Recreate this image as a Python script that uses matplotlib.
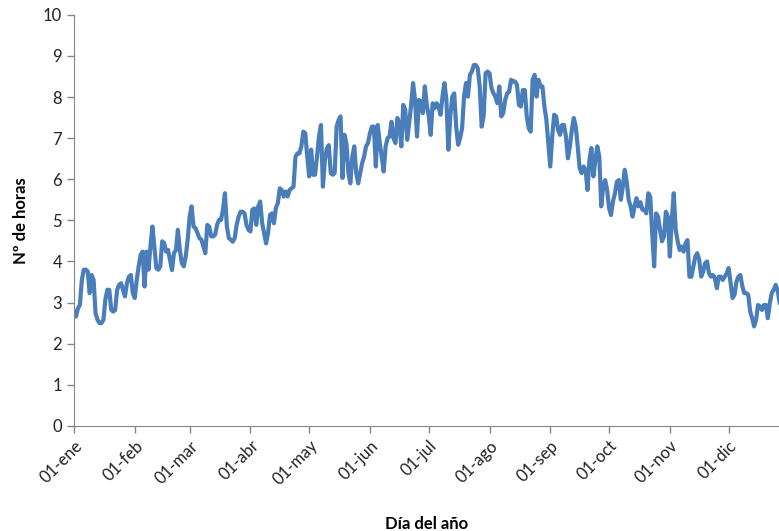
# -*- coding: utf-8 -*-

import matplotlib
matplotlib.use("Agg")
import matplotlib.pyplot as plt

# Horas de sol por día (día 0 = 01-ene)
horas = [
	2.78, 2.66, 2.86, 2.94, 3.55, 3.80, 3.80, 3.76, 3.23, 3.67,
	3.55, 2.74, 2.58, 2.50, 2.50, 2.58, 3.07, 3.31, 3.31, 2.82,
	2.78, 2.82, 3.31, 3.43, 3.47, 3.31, 3.15, 3.47, 3.63, 3.67,
	3.23, 3.11, 3.55, 3.88, 4.16, 4.24, 3.39, 4.24, 3.80, 4.36,
	4.85, 4.36, 3.84, 3.80, 3.88, 4.49, 4.45, 4.24, 4.28, 4.04,
	3.79, 4.20, 4.28, 4.77, 4.28, 3.96, 3.88, 4.12, 4.53, 5.09,
	5.34, 4.85, 4.81, 4.69, 4.57, 4.53, 4.36, 4.20, 4.89, 4.85,
	4.61, 4.61, 4.65, 4.89, 5.01, 5.01, 5.26, 5.66, 4.85, 4.57,
	4.53, 4.48, 4.57, 4.89, 5.09, 5.21, 5.21, 5.17, 4.89, 4.77,
	4.73, 5.26, 5.29, 4.89, 5.34, 5.46, 4.93, 4.69, 4.44, 4.69,
	5.13, 5.17, 4.93, 5.30, 5.42, 5.78, 5.74, 5.58, 5.70, 5.58,
	5.74, 5.78, 5.82, 6.55, 6.63, 6.63, 6.80, 7.16, 7.12, 6.55,
	6.07, 6.72, 6.11, 6.11, 6.55, 7.04, 7.32, 5.82, 6.47, 6.75,
	6.83, 6.15, 6.11, 6.15, 7.28, 7.44, 7.53, 6.03, 7.08, 6.87,
	6.15, 5.90, 6.55, 6.80, 6.15, 5.90, 6.15, 6.39, 6.55, 6.80,
	6.88, 7.12, 7.28, 7.28, 6.31, 7.32, 6.88, 6.55, 6.19, 6.80,
	7.00, 7.04, 7.40, 7.00, 6.88, 7.49, 7.36, 6.80, 7.81, 7.69,
	6.96, 7.36, 7.81, 8.34, 7.93, 7.04, 7.93, 7.89, 7.61, 8.26,
	7.81, 7.53, 7.08, 7.85, 7.73, 7.85, 7.77, 7.57, 8.01, 8.34,
	7.93, 6.72, 7.53, 8.01, 8.09, 7.28, 6.84, 7.00, 7.24, 8.01,
	8.34, 8.01, 8.54, 8.62, 8.78, 8.78, 8.70, 8.26, 7.28, 7.53,
	8.58, 8.62, 8.58, 8.22, 8.09, 8.01, 7.85, 8.26, 7.53, 7.61,
	7.93, 8.09, 8.13, 8.42, 8.38, 8.38, 8.30, 7.81, 7.77, 8.17,
	8.17, 7.53, 7.24, 7.16, 8.42, 8.54, 8.01, 8.42, 8.26, 8.26,
	7.77, 7.45, 6.88, 6.31, 7.04, 7.57, 7.53, 7.20, 7.08, 7.32,
	7.32, 7.04, 6.51, 6.80, 7.20, 7.49, 7.28, 6.80, 6.27, 6.15,
	6.31, 6.23, 5.74, 6.47, 6.76, 6.07, 6.47, 6.80, 6.55, 5.34,
	5.82, 5.98, 5.74, 5.30, 5.13, 5.46, 5.66, 5.94, 5.98, 5.50,
	5.82, 6.23, 5.94, 5.50, 5.34, 5.09, 5.34, 5.54, 5.34, 5.44,
	5.26, 5.26, 5.17, 5.66, 5.58, 4.69, 3.88, 5.17, 5.09, 4.77,
	4.49, 4.61, 5.21, 5.09, 4.12, 5.01, 5.66, 4.77, 4.49, 4.28,
	4.36, 4.24, 4.44, 4.52, 3.63, 3.63, 3.87, 4.12, 4.20, 4.04,
	3.63, 3.75, 3.96, 4.00, 3.71, 3.63, 3.67, 3.59, 3.35, 3.63,
	3.63, 3.55, 3.63, 3.71, 3.84, 3.47, 3.11, 3.19, 3.51, 3.63,
	3.67, 3.39, 3.23, 3.23, 3.19, 2.78, 2.62, 2.42, 2.58, 2.94,
	2.90, 2.82, 2.94, 2.94, 2.62, 2.98, 3.23, 3.31, 3.43, 3.31,
	3.00,
]
dias = list(range(len(horas)))

# Inicio de cada mes (día del año) y sus etiquetas
inicio_mes = [0, 31, 59, 90, 120, 151, 181, 212, 243, 273, 304, 334]
etiquetas_mes = ["01-ene", "01-feb", "01-mar", "01-abr", "01-may", "01-jun",
	"01-jul", "01-ago", "01-sep", "01-oct", "01-nov", "01-dic"]

plt.rcParams["font.family"] = ["Lato", "DejaVu Sans"]

fig = plt.figure(figsize=(7.79, 5.31), dpi=100)
ax = fig.add_axes([0.095, 0.198, 0.905, 0.774])

ax.plot(dias, horas, color="#4A7EBB", linewidth=3.0, solid_joinstyle="round")

ax.set_xlim(0, 359.7)
ax.set_ylim(0, 10)
ax.set_yticks(range(0, 11))
ax.set_xticks(inicio_mes)
ax.set_xticklabels(etiquetas_mes, rotation=45, ha="right", rotation_mode="anchor")

ax.tick_params(axis="both", labelsize=12, colors="#868686", labelcolor="#222222",
	direction="out", length=5, width=1)

for lado in ["top", "right"]:
	ax.spines[lado].set_visible(False)
for lado in ["left", "bottom"]:
	ax.spines[lado].set_color("#868686")

ax.set_xlabel("Día del año", fontsize=12, fontweight="bold", labelpad=20)
ax.set_ylabel("Nº de horas", fontsize=12, fontweight="bold", labelpad=10)

fig.savefig("out.png", dpi=100)
plt.close(fig)
